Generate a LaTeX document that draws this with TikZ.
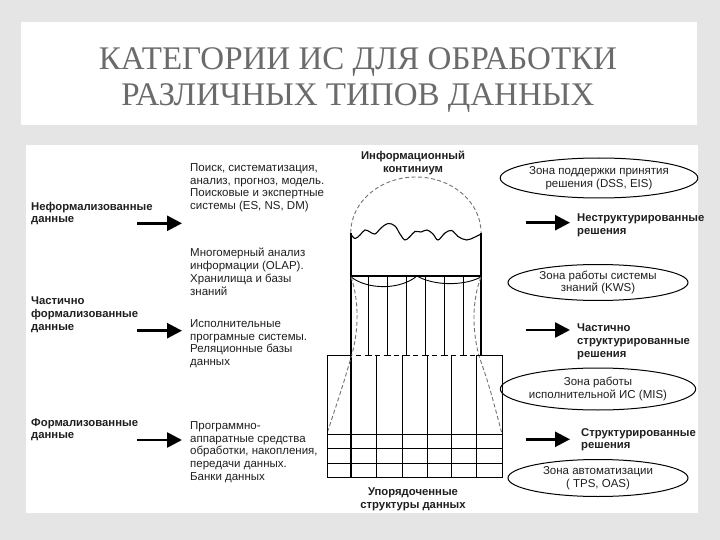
\documentclass[tikz,border=0pt]{standalone}
\usepackage{fontspec}
\setmainfont{Liberation Sans}
\newfontfamily\titlefont{Liberation Serif}
\usetikzlibrary{arrows.meta,shapes.geometric}

\begin{document}
\begin{tikzpicture}[x=1pt,y=-1pt,
            titletext/.style={font=\titlefont\fontsize{33}{36}\selectfont, text=black!58, inner sep=0pt, anchor=base},
            body/.style={font=\fontsize{11.5}{12.9}\selectfont, text=black!88, align=left, anchor=north west, inner sep=0pt},
            datalabel/.style={body, font=\fontsize{11.3}{12.6}\selectfont\bfseries},
            datalabelc/.style={datalabel, align=center, anchor=north},
            zone/.style={ellipse, draw, line width=1pt, minimum width=180pt, inner sep=0pt, align=center, text=black!88, font=\fontsize{11.5}{12.7}\selectfont},
            bigarrow/.style={line width=2.6pt, -{Triangle[length=15pt,width=15pt]}},
            wall/.style={line width=1.1pt},
            gridline/.style={line width=0.9pt},
            hull/.style={line width=0.9pt, black!55, dash pattern=on 4pt off 2.5pt}
        ]

    \useasboundingbox (0,0) rectangle (720,540);
    \fill[black!10] (0,0) rectangle (720,540);
    \fill[white] (21,22) rectangle (697,125);
    \fill[white] (25.6,145) rectangle (697.5,513);

    \node[titletext] (title1) at (358,70)  {КАТЕГОРИИ ИС ДЛЯ ОБРАБОТКИ};
    \node[titletext] (title2) at (358,106) {РАЗЛИЧНЫХ ТИПОВ ДАННЫХ};

    % left column
    \node[datalabel] (unform)  at (31,202) {Неформализованные\\данные};
    \node[datalabel] (semform) at (31,297) {Частично\\формализованные\\данные};
    \node[datalabel] (form)    at (31,418) {Формализованные\\данные};

    \node[body] (search) at (190,163) {Поиск, систематизация,\\анализ, прогноз, модель.\\Поисковые и экспертные\\системы (ES, NS, DM)};
    \node[body] (olap)   at (190,248) {Многомерный анализ\\информации (OLAP).\\Хранилища и базы\\знаний};
    \node[body] (exec)   at (190,319) {Исполнительные\\програмные системы.\\Реляционные базы\\данных};
    \node[body] (hard)   at (190,421) {Программно-\\аппаратные средства\\обработки, накопления,\\передачи данных.\\Банки данных};

    \coordinate (inA) at (137,223.3);  \coordinate (inAend) at (182,223.3);
    \coordinate (inB) at (137,330.7);  \coordinate (inBend) at (182,330.7);
    \coordinate (inC) at (137,440);    \coordinate (inCend) at (182,440);
    \draw[bigarrow] (inA) -- (inAend);
    \draw[bigarrow] (inB) -- (inBend);
    \draw[bigarrow] (inC) -- (inCend);

    % continuum
    \node[datalabelc] (cont) at (413,151) {Информационный\\континиум};
    \draw[hull] (350.7,233) arc[start angle=180, end angle=360, x radius=65.2, y radius=56];
    \draw[wall] plot[smooth, tension=0.6] coordinates {(350.7,234) (355,238.5) (360,235) (365,230) (370,232) (375,234) (381,228) (388,223.5) (395,226) (400,234) (405,240) (410,236.5) (415,231.5) (421,232) (427,230) (433,234) (438,240) (445,233) (451.7,230.5) (458,236.5) (466.7,240) (475,237) (481,234)};
    \draw[wall] (351,233) -- (351,477);
    \draw[wall] (481,233) -- (481,355);
    \draw[wall] (351,276) -- (481,276);
    \draw[gridline] (351,277) .. controls (368,290) and (400,290) .. (417,276) .. controls (434,286) and (464,286) .. (481,277);
    \foreach \x in {368,387,406,425,444,463}
        \draw[gridline] (\x,276) -- (\x,355) (\x-3.5,355) -- (\x+3.5,355);
    \draw[hull] (351,277) .. controls (359,300) and (359,330) .. (351.5,356) .. controls (343,385) .. (327.5,432);
    \draw[hull] (481,277) .. controls (472,300) and (472,330) .. (479,356) .. controls (489,385) .. (501.5,432);

    % ordered structures
    \draw[gridline] (351,355) -- (327,355) -- (327,477) -- (502,477) -- (502,355) -- (476.5,355);
    \draw[gridline, dash pattern=on 5.5pt off 4pt, dash phase=4.75pt] (351,355) -- (476.5,355);
    \foreach \y in {434,448.5,463}
        \draw[gridline] (327,\y) -- (502,\y);
    \foreach \x in {376,402,427,451}
        \draw[gridline] (\x,355) -- (\x,477);
    \draw[wall, line width=1.5pt] (476.5,355) -- (476.5,477);
    \node[datalabelc] (ordered) at (413,488) {Упорядоченные\\структуры данных};

    % right column
    \node[zone, minimum height=40pt] (dss) at (599,178)   {Зона поддержки принятия\\решения (DSS, EIS)};
    \node[zone, minimum height=36pt] (kws) at (598,282.5) {Зона работы системы\\знаний (KWS)};
    \node[zone, minimum height=42pt] (mis) at (598,389)   {Зона работы\\исполнительной ИС (MIS)};
    \node[zone, minimum height=37pt] (tps) at (598,478)   {Зона автоматизации\\( TPS, OAS)};

    \node[datalabel] (unstr)  at (577,214) {Неструктурированные\\решения};
    \node[datalabel] (semstr) at (577,324) {Частично\\структурированные\\решения};
    \node[datalabel] (str)    at (581,428) {Структурированные\\решения};

    \coordinate (outA) at (525.6,222.7);  \coordinate (outAend) at (570,222.7);
    \coordinate (outB) at (525.6,330);    \coordinate (outBend) at (570,330);
    \coordinate (outC) at (525.6,439.3);  \coordinate (outCend) at (570,439.3);
    \draw[bigarrow] (outA) -- (outAend);
    \draw[bigarrow] (outB) -- (outBend);
    \draw[bigarrow] (outC) -- (outCend);

        \end{tikzpicture}
\end{document}
